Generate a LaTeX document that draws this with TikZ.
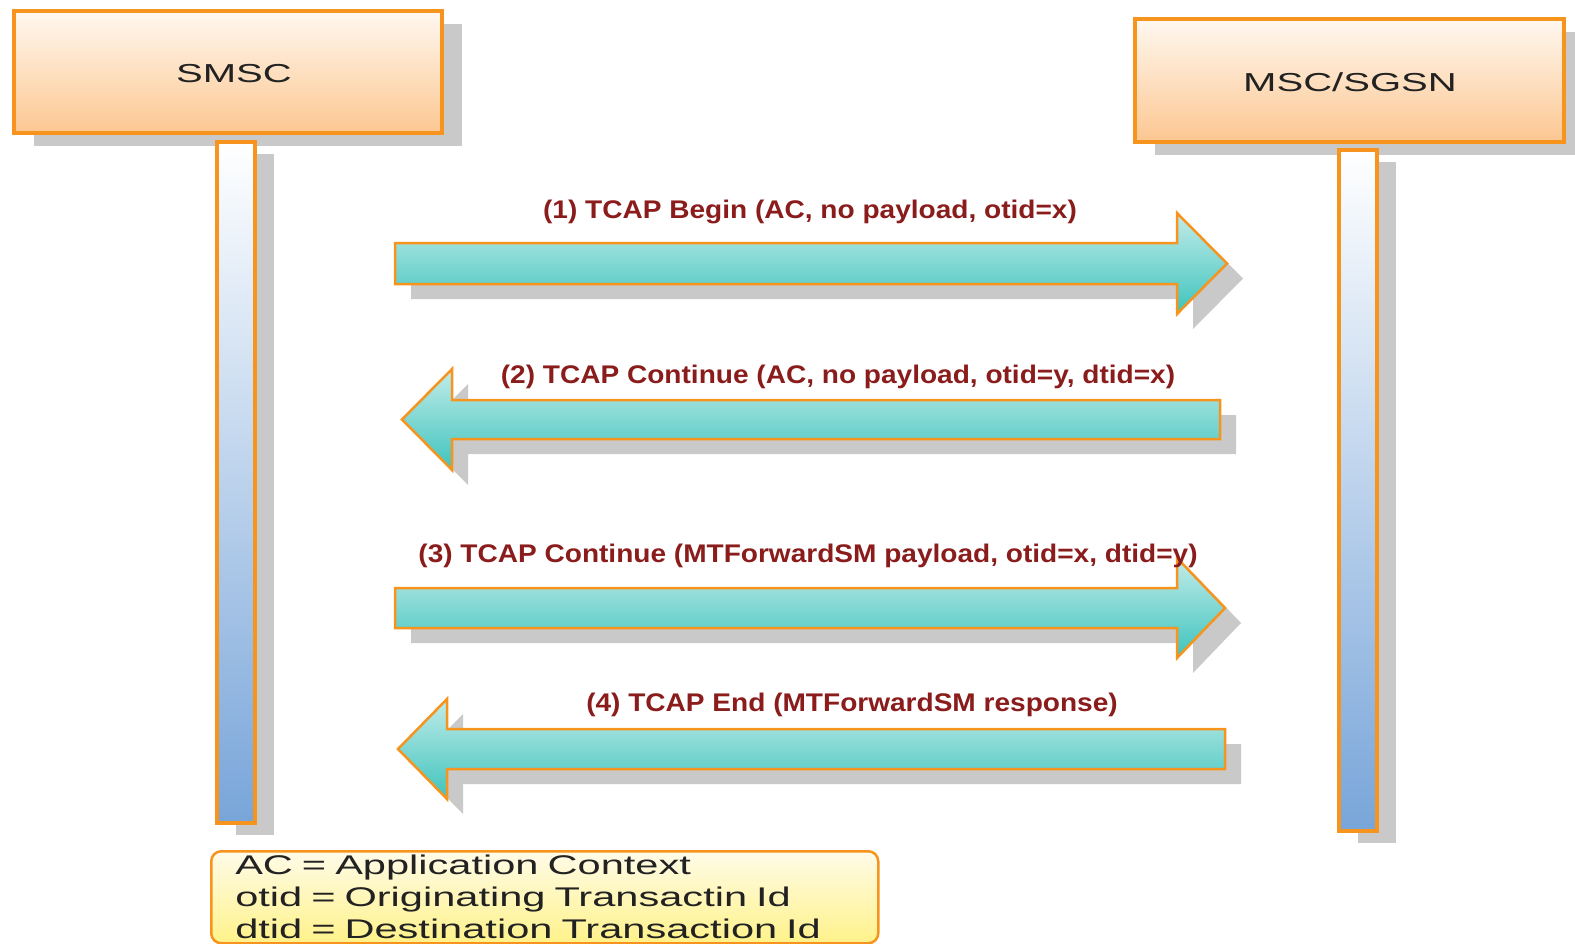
\documentclass[tikz,border=0pt]{standalone}
\usepackage{fontspec}
\setmainfont{Liberation Sans}
\newfontfamily\widesans[FakeStretch=1.54]{Liberation Sans}
\newfontfamily\msgsans[FakeStretch=1.1]{Liberation Sans}
\usetikzlibrary{shadows}

\definecolor{edgeorange}{HTML}{F7941E}
\definecolor{boxtop}{HTML}{FFF8F0}
\definecolor{boxbot}{HTML}{FCC791}
\definecolor{lifetop}{HTML}{FFFFFF}
\definecolor{lifebot}{HTML}{78A5D9}
\definecolor{arrtop}{HTML}{C2ECE9}
\definecolor{arrbot}{HTML}{3EC3BD}
\definecolor{legtop}{HTML}{FFFBE8}
\definecolor{legbot}{HTML}{FFF28A}
\definecolor{shadowgray}{HTML}{C9C9C9}
\definecolor{msgred}{HTML}{8A1C1C}
\definecolor{textdark}{HTML}{222222}

\begin{document}
\begin{tikzpicture}[x=1pt,y=-1pt,
  entity/.style={draw=edgeorange, line width=3.5pt, top color=boxtop, bottom color=boxbot,
    inner sep=0pt, anchor=north west,
    drop shadow={shadow xshift=20pt, shadow yshift=-13pt, fill=shadowgray, opacity=1}},
  entitytext/.style={font=\widesans\fontsize{26}{30}\selectfont, text=textdark, inner sep=0pt},
  lifeline/.style={draw=edgeorange, line width=3.5pt, top color=lifetop, bottom color=lifebot,
    inner sep=0pt, anchor=north west,
    drop shadow={shadow xshift=19pt, shadow yshift=-12pt, fill=shadowgray, opacity=1}},
  msgarrow/.style={draw=edgeorange, line width=2.5pt, line join=miter, top color=arrtop, bottom color=arrbot,
    drop shadow={shadow xshift=16pt, shadow yshift=-15pt, fill=shadowgray, opacity=1}},
  msgtext/.style={font=\msgsans\bfseries\fontsize{25.5}{28}\selectfont, text=msgred, inner sep=0pt, anchor=base},
  legendbox/.style={draw=edgeorange, line width=2.5pt, rounded corners=10pt, top color=legtop, bottom color=legbot,
    anchor=north west, text width=619pt, inner xsep=24pt, inner ysep=0pt, minimum height=92pt, align=left,
    font=\widesans\fontsize{27}{32}\selectfont, text=textdark}
]
\useasboundingbox (0,0) rectangle (1575,943);

% participants
\node[entity, minimum width=428pt, minimum height=122pt] (smsc) at (12,9) {};
\node[entity, minimum width=429pt, minimum height=123pt] (msc) at (1133,17) {};
\node[entitytext] (smsclabel) at (234,74) {SMSC};
\node[entitytext] (msclabel) at (1350,82) {MSC/SGSN};

% lifelines
\node[lifeline, minimum width=38pt, minimum height=681pt] (smscline) at (215,140) {};
\node[lifeline, minimum width=38pt, minimum height=681pt] (mscline) at (1337,148) {};

% messages
\path[msgarrow] (395,243) -- (1177,243) -- (1177,213) -- (1227,263.5) -- (1177,314) -- (1177,284) -- (395,284) -- cycle;
\node[msgtext] (m1) at (810,218) {(1) TCAP Begin (AC, no payload, otid=x)};

\path[msgarrow] (1220,400) -- (452,400) -- (452,369) -- (402,419.5) -- (452,470) -- (452,439) -- (1220,439) -- cycle;
\node[msgtext] (m2) at (838,383) {(2) TCAP Continue (AC, no payload, otid=y, dtid=x)};

\path[msgarrow] (395,588) -- (1177,588) -- (1177,558) -- (1225,608) -- (1177,658) -- (1177,628) -- (395,628) -- cycle;
\node[msgtext] (m3) at (808,562) {(3) TCAP Continue (MTForwardSM payload, otid=x, dtid=y)};

\path[msgarrow] (1225,729) -- (447,729) -- (447,699) -- (398,749) -- (447,799) -- (447,769) -- (1225,769) -- cycle;
\node[msgtext] (m4) at (852,711) {(4) TCAP End (MTForwardSM response)};

% legend
\node[legendbox] (legend) at (210,850) {AC = Application Context\\
otid = Originating Transactin Id\\
dtid = Destination Transaction Id};
\end{tikzpicture}
\end{document}
